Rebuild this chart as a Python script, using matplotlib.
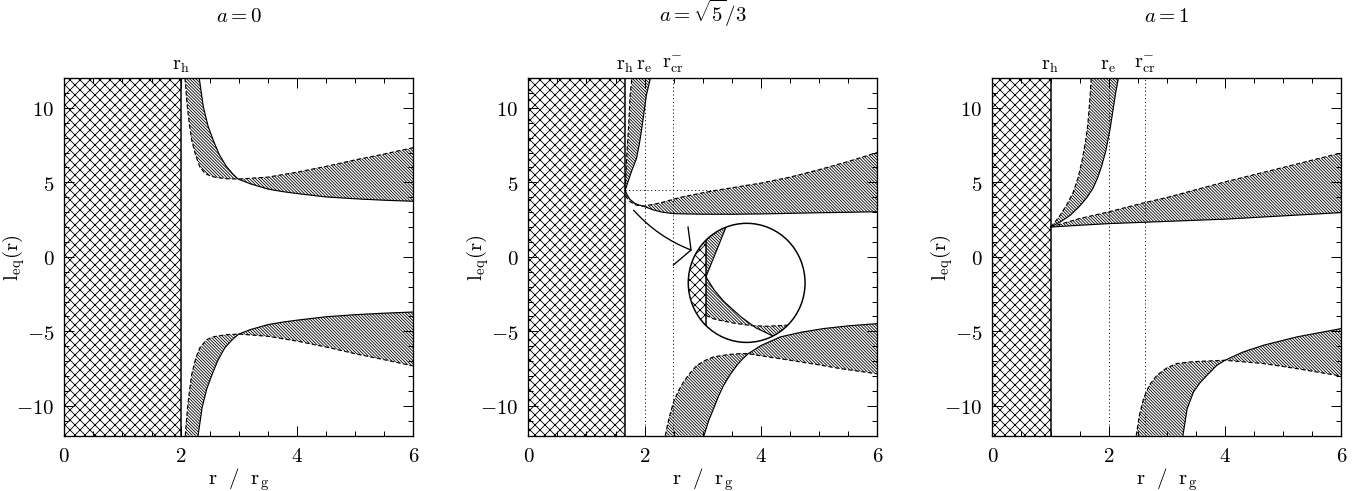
import matplotlib
matplotlib.use('Agg')
import matplotlib.pyplot as plt
from matplotlib.patches import Rectangle, Ellipse, FancyArrowPatch
from matplotlib.ticker import MultipleLocator, FuncFormatter

plt.rcParams['mathtext.fontset'] = 'cm'
plt.rcParams['font.family'] = ['DejaVu Serif']
plt.rcParams['hatch.linewidth'] = 0.5
plt.rcParams['lines.scale_dashes'] = False

# ---------------- a = 0 ----------------
rh_0 = 2.0
# upper band
up_dash_r_0 = [2.075, 2.095, 2.115, 2.15, 2.19, 2.26, 2.33, 2.42, 2.52, 2.62, 2.8, 2.99,
               3.5, 4.0, 4.5, 5.03, 5.5, 6.0]
up_dash_l_0 = [12.0, 11.0, 10.07, 8.9, 7.83, 6.8, 6.04, 5.59, 5.42, 5.32, 5.24, 5.22,
               5.35, 5.68, 6.07, 6.53, 6.9, 7.33]
up_sol_r_0 = [2.32, 2.39, 2.47, 2.56, 2.66, 2.78, 2.9, 2.99, 3.2, 3.5, 3.75, 4.0, 4.5, 5.03, 5.5, 6.0]
up_sol_l_0 = [12.0, 10.07, 8.8, 7.83, 6.9, 6.1, 5.55, 5.22, 4.9, 4.55, 4.38, 4.25, 4.02, 3.89, 3.8, 3.73]
# lower band
lo_dash_r_0 = [2.08, 2.10, 2.12, 2.155, 2.19, 2.26, 2.33, 2.45, 2.55, 2.65, 2.8, 3.0,
               3.5, 4.0, 4.5, 5.0, 5.5, 6.0]
lo_dash_l_0 = [-12.0, -11.0, -10.1, -8.9, -7.9, -6.8, -6.1, -5.55, -5.38, -5.3, -5.22, -5.18,
               -5.33, -5.65, -6.05, -6.5, -6.9, -7.32]
lo_sol_r_0 = [2.30, 2.37, 2.45, 2.54, 2.64, 2.76, 2.89, 3.0, 3.2, 3.5, 3.75, 4.0, 4.5, 5.0, 5.5, 6.0]
lo_sol_l_0 = [-12.0, -10.1, -8.85, -7.9, -6.95, -6.1, -5.55, -5.18, -4.88, -4.55, -4.38, -4.25,
              -4.02, -3.88, -3.78, -3.7]

# ---------------- a = sqrt(5)/3 ----------------
rh_1 = 1.667
re_1 = 2.0
rcr_1 = 2.48
lcusp_1 = 4.47
ldot_end_1 = 3.24
# narrow band next to the horizon
nb_dash_r_1 = [1.667, 1.672, 1.68, 1.69, 1.705, 1.722, 1.75, 1.78]
nb_dash_l_1 = [4.47, 5.0, 5.8, 6.6, 7.6, 8.6, 10.85, 12.0]
nb_sol_r_1 = [1.667, 1.71, 1.78, 1.86, 1.91, 1.95, 2.03, 2.10]
nb_sol_l_1 = [4.47, 5.0, 5.8, 6.6, 7.6, 8.6, 10.85, 12.0]
# upper band
up_dash_r_1 = [1.667, 1.75, 1.85, 1.98, 2.27, 2.6, 3.0, 3.24, 4.0, 4.5, 5.0, 5.5, 6.0]
up_dash_l_1 = [4.1, 3.7, 3.48, 3.40, 3.62, 3.98, 4.3, 4.47, 4.95, 5.35, 5.85, 6.4, 7.0]
up_sol_r_1 = [1.667, 1.70, 1.75, 1.82, 1.90, 1.98, 2.15, 2.3, 2.5, 3.0, 3.5, 4.0, 4.5, 5.0, 5.5, 6.0]
up_sol_l_1 = [4.47, 4.15, 3.85, 3.62, 3.48, 3.40, 3.15, 3.0, 2.9, 2.86, 2.86, 2.88, 2.92, 2.96, 2.99, 3.03]
# lower band
lo_dash_r_1 = [2.354, 2.42, 2.497, 2.58, 2.669, 2.78, 2.90, 3.04, 3.186, 3.45, 3.646, 3.78,
               4.1, 4.507, 5.0, 5.367, 6.0]
lo_dash_l_1 = [-12.0, -10.8, -9.73, -9.0, -8.39, -7.8, -7.27, -6.95, -6.71, -6.55, -6.49, -6.5,
               -6.7, -6.94, -7.25, -7.5, -7.85]
lo_sol_r_1 = [3.02, 3.10, 3.186, 3.27, 3.358, 3.47, 3.588, 3.68, 3.78, 4.0, 4.334, 4.7, 5.08, 5.5, 6.0]
lo_sol_l_1 = [-12.0, -11.0, -10.18, -9.35, -8.62, -7.9, -7.27, -6.86, -6.5, -5.95, -5.37, -5.05,
              -4.81, -4.63, -4.48]
# magnified view (drawn in the circle)
ins_center = (3.754, -1.745)
ins_width = 2.008
ins_height = 7.99
ins_chord_r = 3.054
ins_top_r = [3.054, 3.40, 3.46]
ins_top_l = [-1.344, 2.01, 2.6]
ins_sol_r = [3.054, 3.198, 3.370, 3.657, 3.915, 4.202, 4.40]
ins_sol_l = [-1.344, -2.240, -3.022, -4.029, -4.767, -5.304, -5.6]
ins_dash_r = [3.054, 3.169, 3.313, 3.542, 3.829, 4.116, 4.432, 4.6]
ins_dash_l = [-3.917, -4.141, -4.275, -4.454, -4.611, -4.656, -4.589, -4.55]
arrow_from = (1.81, 3.13)
arrow_to = (2.81, 0.44)

# ---------------- a = 1 ----------------
rh_2 = 1.0
re_2 = 2.0
rcr_2 = 2.62
nb_dash_r_2 = [1.0, 1.08, 1.165, 1.28, 1.394, 1.48, 1.55, 1.60, 1.64, 1.665, 1.685, 1.70]
nb_dash_l_2 = [2.0, 2.35, 2.79, 3.5, 4.36, 5.4, 6.6, 7.7, 8.83, 10.0, 11.07, 12.0]
nb_sol_r_2 = [1.0, 1.17, 1.34, 1.50, 1.63, 1.73, 1.81, 1.88, 1.95, 2.025, 2.08, 2.123, 2.168]
nb_sol_l_2 = [2.0, 2.35, 2.79, 3.4, 4.0, 4.6, 5.3, 6.1, 7.1, 8.6, 10.0, 11.07, 12.0]
up_dash_r_2 = [1.0, 1.5, 2.0, 2.62, 3.0, 4.0, 5.0, 6.0]
up_dash_l_2 = [2.0, 2.57, 3.02, 3.64, 3.98, 5.03, 6.0, 6.98]
up_sol_r_2 = [1.0, 1.5, 2.0, 3.0, 4.0, 5.0, 6.0]
up_sol_l_2 = [2.0, 2.12, 2.23, 2.38, 2.53, 2.75, 2.97]
lo_dash_r_2 = [2.473, 2.53, 2.60, 2.70, 2.829, 3.0, 3.173, 3.4, 3.63, 4.0, 4.663, 5.237, 6.0]
lo_dash_l_2 = [-12.0, -10.6, -9.51, -8.6, -7.95, -7.45, -7.16, -7.05, -7.0, -6.94, -7.16, -7.5, -8.0]
lo_sol_r_2 = [3.276, 3.35, 3.459, 3.57, 3.689, 3.861, 4.0, 4.3, 4.663, 5.237, 6.0]
lo_sol_l_2 = [-12.0, -10.18, -9.06, -8.45, -7.95, -7.27, -6.94, -6.4, -5.93, -5.37, -4.81]

titles = [r'$a = 0$', r'$a = \sqrt{5}/3$', r'$a = 1$']

DASH = (0, (2.6, 1.4))
DOT = (0, (0.6, 1.6))
BAND_HATCH = '\\' * 13
HOLE_HATCH = 'xxxx'


def band(ax, rd, ld, rs, ls, clip=None, z=2):
    poly_r = list(rd) + list(rs)[::-1]
    poly_l = list(ld) + list(ls)[::-1]
    f = ax.fill(poly_r, poly_l, facecolor='none', edgecolor='black',
                hatch=BAND_HATCH, linewidth=0, zorder=z)
    d = ax.plot(rd, ld, color='black', lw=0.7, ls=DASH, zorder=z + 0.5)
    s = ax.plot(rs, ls, color='black', lw=0.7, zorder=z + 0.5)
    if clip is not None:
        for a in f + d + s:
            a.set_clip_path(clip)


def horizon(ax, rh):
    ax.add_patch(Rectangle((0, -12), rh, 24, facecolor='none', edgecolor='black',
                           hatch=HOLE_HATCH, linewidth=0, zorder=1))
    ax.axvline(rh, color='black', lw=0.9, zorder=3)


def top_label(ax, r, txt):
    ax.annotate(txt, xy=(r, 1.0), xycoords=('data', 'axes fraction'),
                xytext=(0, 2.5), textcoords='offset points',
                ha='center', va='bottom', fontsize=12)


fig = plt.figure(figsize=(11.4, 4.1), dpi=120)
lefts = [0.0470, 0.3862, 0.7254]
axes = [fig.add_axes([x, 0.1124, 0.2551, 0.7270]) for x in lefts]

for ax, t in zip(axes, titles):
    ax.set_xlim(0, 6)
    ax.set_ylim(-12, 12)
    ax.xaxis.set_major_locator(MultipleLocator(2))
    ax.xaxis.set_minor_locator(MultipleLocator(0.5))
    ax.yaxis.set_major_locator(MultipleLocator(5))
    ax.yaxis.set_minor_locator(MultipleLocator(1))
    fmt = FuncFormatter(lambda v, p: r'$%d$' % round(v))
    ax.xaxis.set_major_formatter(fmt)
    ax.yaxis.set_major_formatter(fmt)
    ax.tick_params(which='both', direction='in', top=True, right=True,
                   labelsize=12.5, width=0.6)
    ax.tick_params(which='major', length=6, pad=6)
    ax.tick_params(which='minor', length=3)
    for sp in ax.spines.values():
        sp.set_linewidth(0.8)
    ax.set_xlabel(r'$\mathrm{r\ \ /\ \ r_g}$', fontsize=12.5)
    ax.set_ylabel(r'$\mathrm{l_{eq}(r)}$', fontsize=12.5)
    ax.xaxis.set_label_coords(0.5, -0.083)
    ax.yaxis.set_label_coords(-0.108, 0.5)
    ax.set_title(t, fontsize=12.5, pad=34)

# panel a = 0
ax = axes[0]
horizon(ax, rh_0)
band(ax, up_dash_r_0, up_dash_l_0, up_sol_r_0, up_sol_l_0)
band(ax, lo_dash_r_0, lo_dash_l_0, lo_sol_r_0, lo_sol_l_0)
top_label(ax, rh_0, r'$\mathrm{r_h}$')

# panel a = sqrt(5)/3
ax = axes[1]
horizon(ax, rh_1)
ax.axvline(re_1, color='black', lw=0.6, ls=DOT, zorder=2.8)
ax.axvline(rcr_1, color='black', lw=0.6, ls=DOT, zorder=2.8)
ax.plot([rh_1, ldot_end_1], [lcusp_1, lcusp_1], color='black', lw=0.6, ls=DOT, zorder=2.8)
band(ax, nb_dash_r_1, nb_dash_l_1, nb_sol_r_1, nb_sol_l_1)
band(ax, up_dash_r_1, up_dash_l_1, up_sol_r_1, up_sol_l_1)
band(ax, lo_dash_r_1, lo_dash_l_1, lo_sol_r_1, lo_sol_l_1)
top_label(ax, rh_1, r'$\mathrm{r_h}$')
top_label(ax, re_1, r'$\mathrm{r_e}$')
top_label(ax, rcr_1, r'$\mathrm{r_{cr}^{-}}$')

ell = Ellipse(ins_center, ins_width, ins_height, facecolor='white', edgecolor='none', zorder=3)
ax.add_patch(ell)
hole = Rectangle((ins_center[0] - ins_width, -12), ins_chord_r - ins_center[0] + ins_width, 24,
                 facecolor='none', edgecolor='black', hatch=HOLE_HATCH, linewidth=0, zorder=4)
ax.add_patch(hole)
hole.set_clip_path(ell)
chord, = ax.plot([ins_chord_r, ins_chord_r], [-12, 12], color='black', lw=0.9, zorder=5)
chord.set_clip_path(ell)
top_poly = ax.fill(ins_top_r + [ins_top_r[-1], ins_chord_r], ins_top_l + [12, 12],
                   facecolor='none', edgecolor='black', hatch=BAND_HATCH, linewidth=0, zorder=4)
top_poly[0].set_clip_path(ell)
top_line, = ax.plot(ins_top_r, ins_top_l, color='black', lw=0.7, zorder=4.5)
top_line.set_clip_path(ell)
band(ax, ins_dash_r, ins_dash_l, ins_sol_r, ins_sol_l, clip=ell, z=4)
ax.add_patch(Ellipse(ins_center, ins_width, ins_height, fill=False, edgecolor='black', lw=0.9, zorder=6))
ax.add_patch(FancyArrowPatch(arrow_from, arrow_to, connectionstyle='arc3,rad=0.12',
                             arrowstyle='->,head_length=6.7,head_width=12.3',
                             mutation_scale=1, shrinkA=0, shrinkB=0,
                             color='black', lw=0.8, zorder=6))

# panel a = 1
ax = axes[2]
horizon(ax, rh_2)
ax.axvline(re_2, color='black', lw=0.6, ls=DOT, zorder=2.8)
ax.axvline(rcr_2, color='black', lw=0.6, ls=DOT, zorder=2.8)
band(ax, nb_dash_r_2, nb_dash_l_2, nb_sol_r_2, nb_sol_l_2)
band(ax, up_dash_r_2, up_dash_l_2, up_sol_r_2, up_sol_l_2)
band(ax, lo_dash_r_2, lo_dash_l_2, lo_sol_r_2, lo_sol_l_2)
top_label(ax, rh_2, r'$\mathrm{r_h}$')
top_label(ax, re_2, r'$\mathrm{r_e}$')
top_label(ax, rcr_2, r'$\mathrm{r_{cr}^{-}}$')

fig.savefig('out.png', dpi=120)
